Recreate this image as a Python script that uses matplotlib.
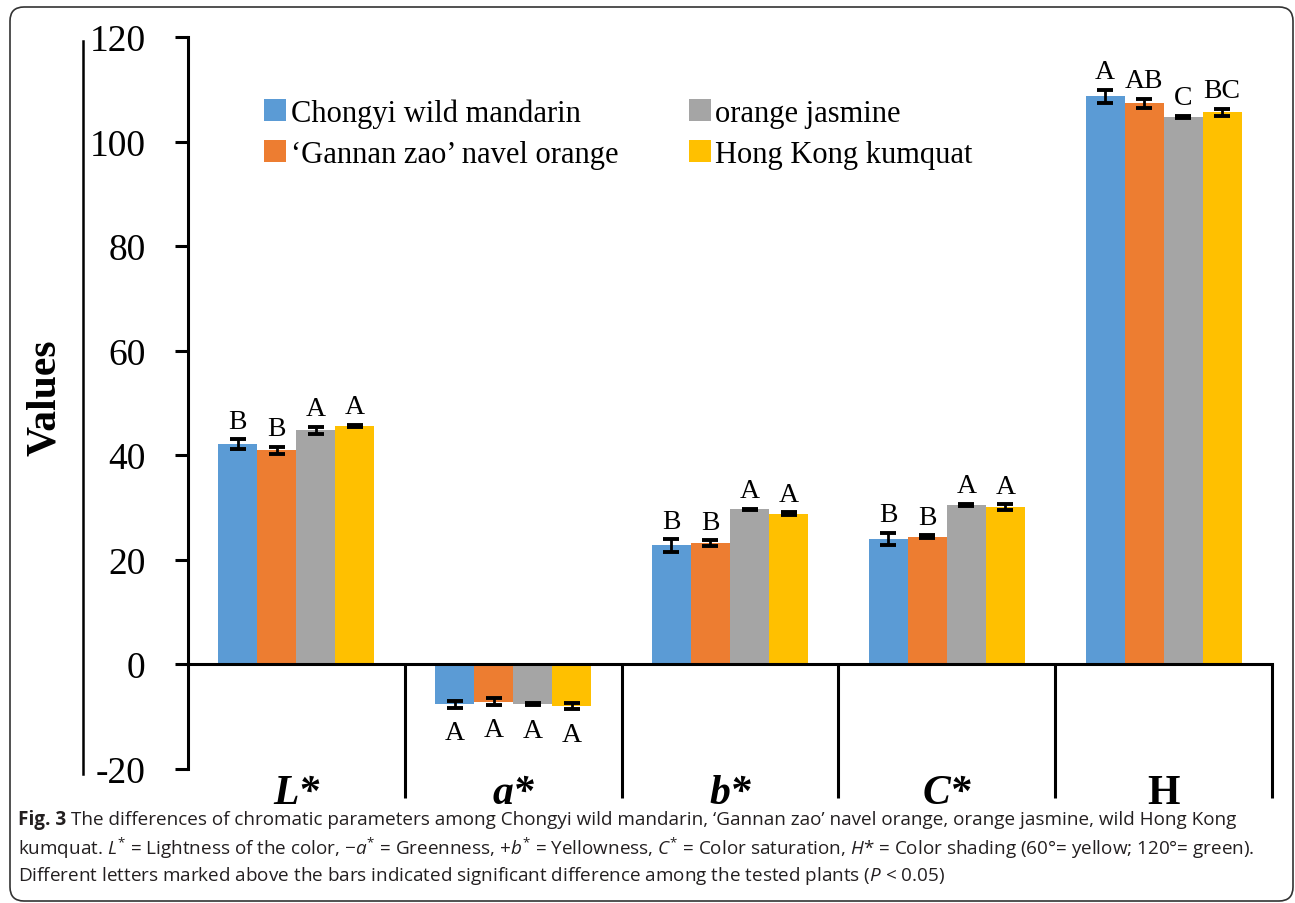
import matplotlib.pyplot as plt
import numpy as np
from matplotlib.patches import FancyBboxPatch
from matplotlib.lines import Line2D

plt.rcParams['font.family'] = 'Liberation Serif'
plt.rcParams['axes.unicode_minus'] = False
plt.rcParams['mathtext.fontset'] = 'custom'
plt.rcParams['mathtext.rm'] = 'Open Sans'
plt.rcParams['mathtext.it'] = 'Open Sans:italic'
plt.rcParams['mathtext.bf'] = 'Open Sans:bold'

# chromatic parameters and plants
params = ['L*', 'a*', 'b*', 'C*', 'H']
plants = ['Chongyi wild mandarin', '\u2018Gannan zao\u2019 navel orange',
          'orange jasmine', 'Hong Kong kumquat']
colors = ['#5B9BD5', '#ED7D31', '#A5A5A5', '#FFC000']

mandarin = [42.1, -7.7, 22.7, 23.9, 108.7]
navel = [40.9, -7.2, 23.1, 24.4, 107.3]
jasmine = [44.7, -7.7, 29.6, 30.5, 104.7]
kumquat = [45.6, -8.1, 28.8, 30.0, 105.6]

mandarin_err = [0.9, 0.65, 1.2, 1.2, 1.25]
navel_err = [0.65, 0.6, 0.6, 0.2, 0.85]
jasmine_err = [0.65, 0.2, 0.1, 0.2, 0.2]
kumquat_err = [0.2, 0.6, 0.2, 0.6, 0.65]

mandarin_sig = ['B', 'A', 'B', 'B', 'A']
navel_sig = ['B', 'A', 'B', 'B', 'AB']
jasmine_sig = ['A', 'A', 'A', 'A', 'C']
kumquat_sig = ['A', 'A', 'A', 'A', 'BC']

values = [mandarin, navel, jasmine, kumquat]
errors = [mandarin_err, navel_err, jasmine_err, kumquat_err]
sigs = [mandarin_sig, navel_sig, jasmine_sig, kumquat_sig]

W, H = 1295, 904
fig = plt.figure(figsize=(W / 100, H / 100), dpi=100)
ax = fig.add_axes([188 / W, 1 - 769.5 / H, (1272 - 188) / W, (769.5 - 38) / H])

x = np.arange(len(params))
width = 0.18
for i in range(4):
    xs = x + (i - 1.5) * width
    ax.bar(xs, values[i], width, color=colors[i], label=plants[i], zorder=2)
    ax.errorbar(xs, values[i], yerr=errors[i], fmt='none', ecolor='black',
                elinewidth=2, capsize=6, capthick=2.8, zorder=3)
    for xi, v, e, s in zip(xs, values[i], errors[i], sigs[i]):
        if v >= 0:
            ax.annotate(s, (xi, v + e), xytext=(0, 4), textcoords='offset points',
                        ha='center', va='bottom', fontsize=20)
        else:
            ax.annotate(s, (xi, v - e), xytext=(0, -9), textcoords='offset points',
                        ha='center', va='top', fontsize=20)

ax.set_xlim(-0.5, 4.5)
ax.set_ylim(-20, 120)
ax.set_yticks(range(-20, 121, 20))
ax.tick_params(axis='y', direction='out', length=9.5, width=2.2, labelsize=27, pad=21)
ax.tick_params(axis='x', length=0, labelbottom=False)
ax.spines['top'].set_visible(False)
ax.spines['right'].set_visible(False)
ax.spines['left'].set_linewidth(2.2)
ax.spines['bottom'].set_position(('data', 0))
ax.spines['bottom'].set_linewidth(2.2)
ax.spines['bottom'].set_zorder(4)

# group dividers below the zero line
for b in np.arange(0.5, 5, 1):
    ax.plot([b, b], [0, -25.7], color='black', lw=2.2, clip_on=False,
            solid_capstyle='butt')

for xi, p in zip(x, params):
    style = 'normal' if p == 'H' else 'italic'
    ax.text(xi, -24.6, p, ha='center', va='center', fontsize=30,
            fontweight='bold', fontstyle=style, clip_on=False)

fig.text(45 / W, 1 - 398 / H, 'Values', rotation=90, ha='center', va='center',
         fontsize=30, fontweight='bold')

ax.legend(ncol=2, loc='upper left', bbox_to_anchor=(249 / W, 1 - 84 / H),
          bbox_transform=fig.transFigure, frameon=False, fontsize=22,
          handlelength=0.72, handleheight=0.72, handletextpad=0.15,
          columnspacing=2.3, labelspacing=0.4, borderpad=0)

# extra vertical rule left of the tick labels
fig.add_artist(Line2D([83 / W, 83 / W], [1 - 42 / H, 1 - 775 / H],
                      transform=fig.transFigure, color='black', lw=1.8))

# caption
cap_kw = dict(fontsize=13.6, family='Open Sans', color='#231f20', va='center')
renderer = fig.canvas.get_renderer()
head = fig.text(18 / W, 1 - 820 / H, 'Fig. 3', fontweight='bold', **cap_kw)
hx = head.get_window_extent(renderer).x1
fig.text((hx + 5) / W, 1 - 820 / H,
         'The differences of chromatic parameters among Chongyi wild mandarin, '
         '\u2018Gannan zao\u2019 navel orange, orange jasmine, wild Hong Kong', **cap_kw)
fig.text(18 / W, 1 - 848 / H,
         r'kumquat. $\mathit{L}^{*}$ = Lightness of the color, '
         '\u2212' r'$\mathit{a}^{*}$ = Greenness, +$\mathit{b}^{*}$ = Yellowness, '
         r'$\mathit{C}^{*}$ = Color saturation, $\mathit{H}$* = Color shading '
         '(60\u00b0= yellow; 120\u00b0= green).', **cap_kw)
fig.text(18 / W, 1 - 876 / H,
         r'Different letters marked above the bars indicated significant difference '
         r'among the tested plants ($\mathit{P}$ < 0.05)', **cap_kw)

# rounded outer frame
fig.add_artist(FancyBboxPatch((10, H - 902), 1283, 894,
                              boxstyle='round,pad=0,rounding_size=14',
                              transform=None, facecolor='none',
                              edgecolor='#333333', lw=1.2))

fig.savefig('out.png', dpi=100)
